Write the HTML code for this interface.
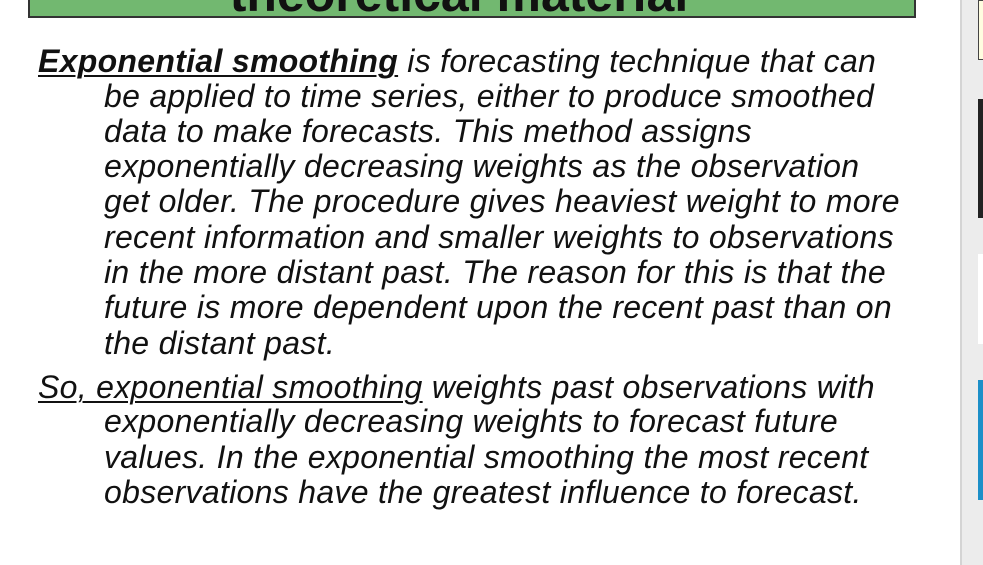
<!DOCTYPE html>
<html><head><meta charset="utf-8"><style>
html,body{margin:0;padding:0;width:983px;height:565px;overflow:hidden;background:#fff;position:relative;font-family:"Liberation Sans",sans-serif}
.hdr{position:absolute;left:28px;top:-10px;width:884px;height:26px;background:#72b870;border:2px solid #333;border-top:none;overflow:hidden}
.hdr span{position:absolute;left:-26px;right:0;text-align:center;font-weight:bold;font-size:50px;line-height:50px;top:-21px;color:#111}
.side{position:absolute;left:960px;top:0;width:23px;height:565px;background:#ececec;border-left:2px solid #d4d4d4}
.t{position:absolute;left:0;top:0;font-style:italic;font-size:32px;letter-spacing:0.3px;color:#111;white-space:nowrap;line-height:34px}
.l{position:absolute;white-space:nowrap}
u{text-decoration-thickness:2px;text-underline-offset:3px}
</style></head><body>
<div class="hdr"><span>theoretical material</span></div>
<div class="side">
<div style="position:absolute;left:16px;top:0;width:7px;height:60px;background:#fffde0;border:1px solid #444;box-sizing:border-box"></div>
<div style="position:absolute;left:16px;top:99px;width:7px;height:119px;background:#222"></div>
<div style="position:absolute;left:16px;top:254px;width:7px;height:90px;background:#fff"></div>
<div style="position:absolute;left:16px;top:380px;width:7px;height:120px;background:#1c8fc8"></div>
</div>
<div class="t">
<div class="l" style="left:38px;top:44px"><b><u>Exponential smoothing</u></b> is forecasting technique that can</div>
<div class="l" style="left:104px;top:79px">be applied to time series, either to produce smoothed</div>
<div class="l" style="left:104px;top:114px">data to make forecasts. This method assigns</div>
<div class="l" style="left:104px;top:149px">exponentially decreasing weights as the observation</div>
<div class="l" style="left:104px;top:184px">get older. The procedure gives heaviest weight to more</div>
<div class="l" style="left:104px;top:220px">recent information and smaller weights to observations</div>
<div class="l" style="left:104px;top:255px">in the more distant past. The reason for this is that the</div>
<div class="l" style="left:104px;top:290px">future is more dependent upon the recent past than on</div>
<div class="l" style="left:104px;top:326px">the distant past.</div>
<div class="l" style="left:38px;top:370px"><u>So, exponential smoothing</u> weights past observations with</div>
<div class="l" style="left:104px;top:404px">exponentially decreasing weights to forecast future</div>
<div class="l" style="left:104px;top:440px">values. In the exponential smoothing the most recent</div>
<div class="l" style="left:104px;top:475px">observations have the greatest influence to forecast.</div>
</div>
</body></html>
